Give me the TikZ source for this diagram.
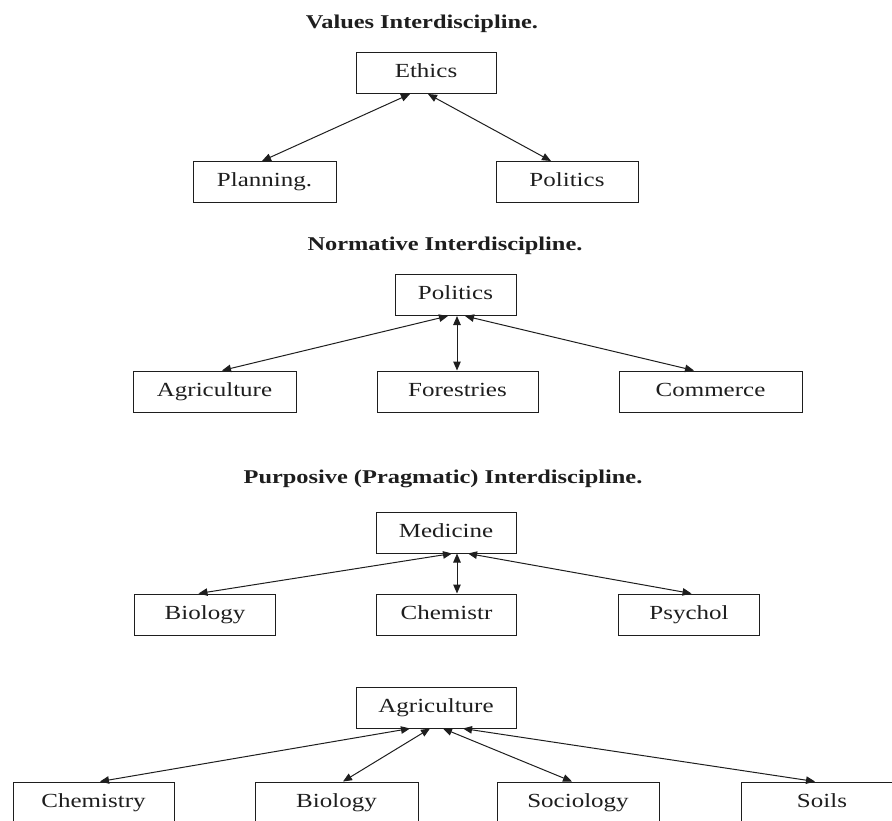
\documentclass[tikz,border=0pt]{standalone}
\usepackage{fontspec}
\setmainfont{Liberation Serif}[FakeStretch=1.25]
\usetikzlibrary{positioning,arrows.meta}
\definecolor{trazo}{HTML}{1E1E1E}

\begin{document}
\begin{tikzpicture}[x=1pt, y=-1pt, color=trazo, line width=1pt,
      font=\fontsize{20}{24}\selectfont, >={Triangle[length=9pt, width=7.5pt]},
      p/.style={draw, minimum height=41pt, inner sep=2pt, text height=13.5pt, text depth=4.5pt},
      hd/.style={font=\fontsize{19.5}{23}\selectfont\bfseries}]
    \useasboundingbox (0,0) rectangle (892,820);
    % values
    \node[hd] (t1) at (422,24) {Values Interdiscipline.};
    \node[p, minimum width=140pt] (e) at (426,73) {Ethics};
    \node[p, minimum width=143pt] (pl) at (264.5,182) {Planning.};
    \node[p, minimum width=142pt, right=159pt of pl] (po) {Politics};
    \draw[<->] ([xshift=-16pt]e.south) -- ([xshift=-2.5pt]pl.north);
    \draw[<->] ([xshift=2pt]e.south) -- ([xshift=-16pt]po.north);
    % normative
    \node[hd] (t2) at (445,246) {Normative Interdiscipline.};
    \node[p, minimum width=121pt] (np) at (455.5,295) {Politics};
    \node[p, minimum width=163pt] (ag) at (214.5,391.5) {Agriculture};
    \node[p, minimum width=161pt, right=80pt of ag] (fo) {Forestries};
    \node[p, minimum width=183pt, right=80pt of fo] (co) {Commerce};
    \draw[<->] ([xshift=-7.5pt]np.south) -- ([xshift=7.5pt]ag.north);
    \draw[<->] ([xshift=1.5pt]np.south) -- ([xshift=1.5pt]np.south |- fo.north);
    \draw[<->] ([xshift=9.5pt]np.south) -- ([xshift=-16.5pt]co.north);
    % purposive
    \node[hd] (t3) at (443,479) {Purposive (Pragmatic) Interdiscipline.};
    \node[p, minimum width=140pt] (me) at (446,532.5) {Medicine};
    \node[p, minimum width=141pt] (bi) at (205,614.5) {Biology};
    \node[p, minimum width=140pt, right=100pt of bi] (ch) {Chemistr};
    \node[p, minimum width=141pt, right=101pt of ch] (ps) {Psychol};
    \draw[<->] ([xshift=6pt]me.south) -- ([xshift=-6.5pt]bi.north);
    \draw[<->] ([xshift=11pt]me.south) -- ([xshift=11pt]me.south |- ch.north);
    \draw[<->] ([xshift=22pt]me.south) -- ([xshift=2.5pt]ps.north);
    % agriculture
    \node[p, minimum width=160pt] (ar) at (436,707.5) {Agriculture};
    \node[p, minimum width=161pt] (cm) at (93.5,802.5) {Chemistry};
    \node[p, minimum width=163pt, right=80pt of cm] (bl) {Biology};
    \node[p, minimum width=162pt, right=78pt of bl] (so) {Sociology};
    \node[p, minimum width=162pt, right=81pt of so] (si) {Soils};
    \draw[<->] ([xshift=-26pt]ar.south) -- ([xshift=6.5pt]cm.north);
    \draw[<->] ([xshift=-6pt]ar.south) -- ([xshift=6.5pt]bl.north);
    \draw[<->] ([xshift=7pt]ar.south) -- ([xshift=-6pt]so.north);
    \draw[<->] ([xshift=27pt]ar.south) -- ([xshift=-7pt]si.north);
  \end{tikzpicture}
\end{document}
